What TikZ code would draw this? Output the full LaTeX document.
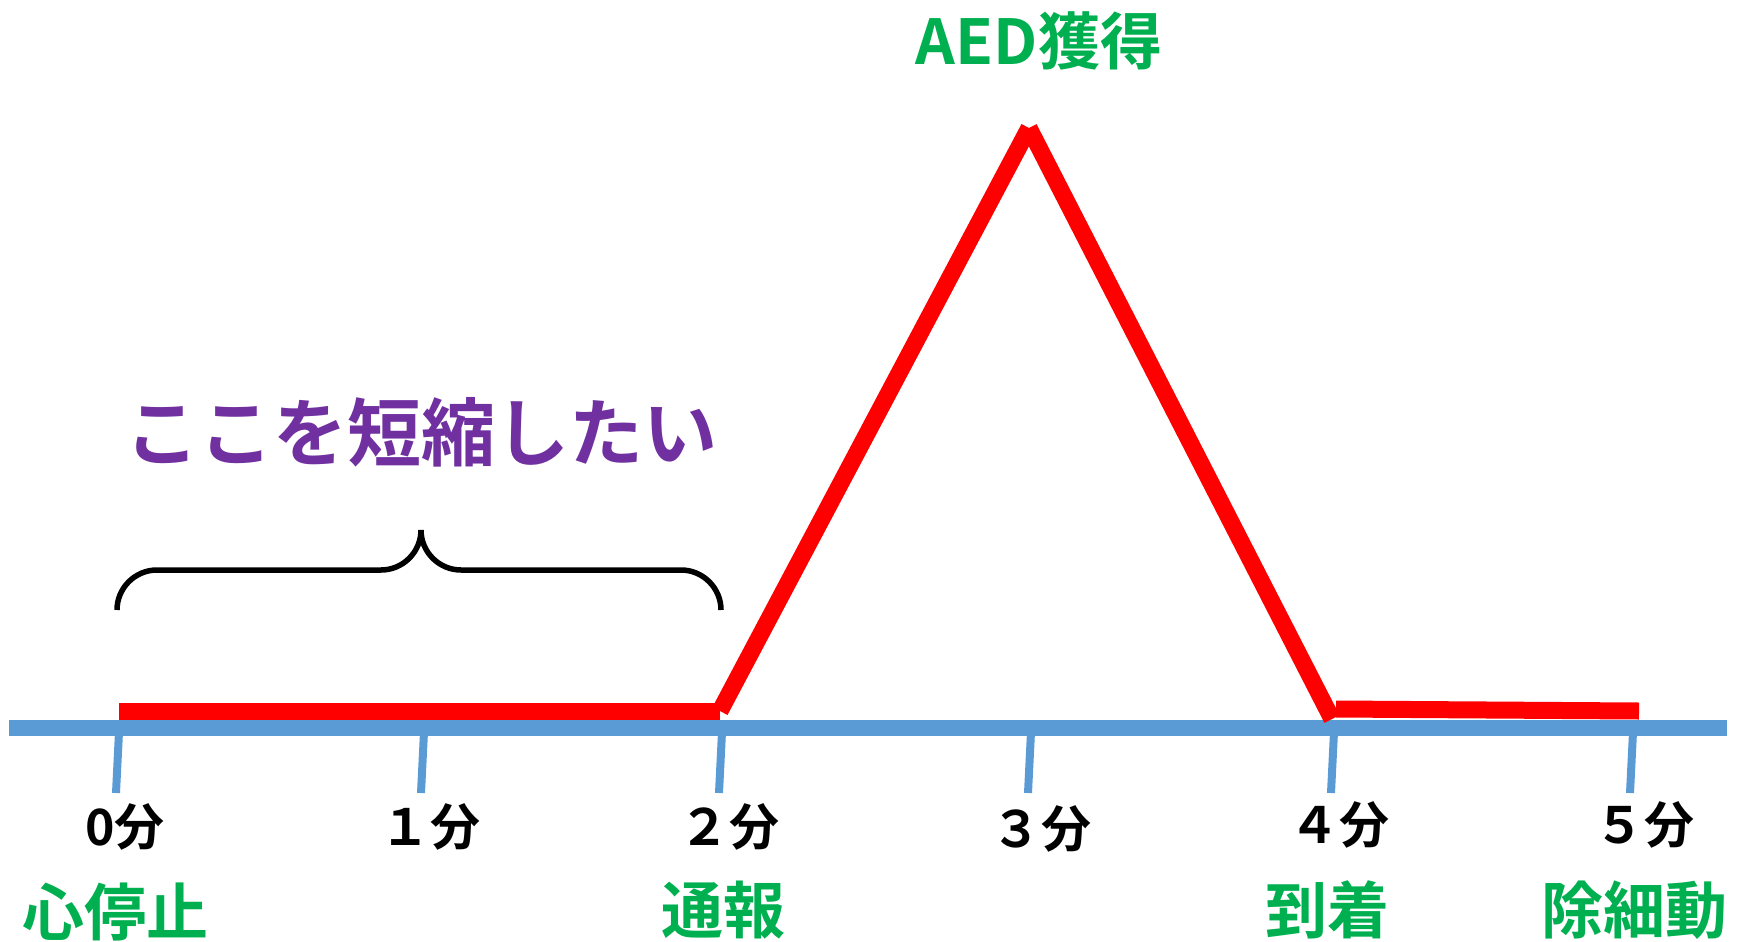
\documentclass[tikz,border=0pt]{standalone}
\usepackage{fontspec}
\setmainfont{Noto Sans CJK JP}[BoldFont={Noto Sans CJK JP Bold}]
\definecolor{axisblue}{HTML}{5B9BD5}
\definecolor{lgreen}{HTML}{00B050}
\definecolor{lpurple}{HTML}{7030A0}
\definecolor{lred}{HTML}{FF0000}
\begin{document}
\begin{tikzpicture}[x=1pt,y=-1pt,
  axisline/.style={draw=axisblue,line width=16pt},
  tickline/.style={draw=axisblue,line width=8pt},
  redline/.style={draw=lred,line width=17pt},
  minlabel/.style={font=\fontsize{50}{54}\selectfont\bfseries,text=black,inner sep=0pt},
  eventlabel/.style={font=\fontsize{62}{68}\selectfont\bfseries,text=lgreen,inner sep=0pt},
  notelabel/.style={font=\fontsize{74}{80}\selectfont\bfseries,text=lpurple,inner sep=0pt},
  bracestyle/.style={draw=black,line width=5.5pt}]
\useasboundingbox (0,0) rectangle (1745,942);
% axis
\coordinate (axL) at (9,728);
\coordinate (axR) at (1727,728);
\draw[axisline] (axL) -- (axR);
% ticks
\foreach \n/\x in {0/117,1/422,2/720,3/1029,4/1332,5/1631}{
  \coordinate (t\n top) at (\x+2,732);
  \coordinate (t\n bot) at (\x-1,793);
  \draw[tickline] (t\n top) -- (t\n bot);
}
% red curve
\coordinate (r0) at (119,711);
\coordinate (r1) at (720,711);
\coordinate (r2) at (1029,128);
\coordinate (r3) at (1332,719);
\coordinate (r4) at (1336,709);
\coordinate (r5) at (1639,711);
\draw[redline] (r0) -- (r1);
\draw[redline] (r1) -- (r2);
\draw[redline] (r2) -- (r3);
\draw[redline] (r4) -- (r5);
% brace
\coordinate (bL) at (117,610);
\coordinate (bM) at (421,530);
\coordinate (bR) at (721,610);
\draw[bracestyle] (bL) .. controls (117,588) and (135,570) .. (157,570) -- (381,570)
  .. controls (403,570) and (421,552) .. (bM)
  .. controls (421,552) and (439,570) .. (461,570) -- (681,570)
  .. controls (703,570) and (721,588) .. (bR);
% labels
\node[minlabel] (m0) at (125,827) {0分};
\node[minlabel] (m1) at (430,827) {１分};
\node[minlabel] (m2) at (729,827) {２分};
\node[minlabel] (m3) at (1041,829) {３分};
\node[minlabel] (m4) at (1339,825) {４分};
\node[minlabel] (m5) at (1644,825) {５分};
\node[eventlabel] (e0) at (115,912) {心停止};
\node[eventlabel] (e2) at (723,910) {通報};
\node[eventlabel] (e4) at (1327,910) {到着};
\node[eventlabel] (e5) at (1634,910) {除細動};
\node[eventlabel] (aed) at (1039,41) {AED獲得};
\node[notelabel] (note) at (421,432) {ここを短縮したい};
\end{tikzpicture}
\end{document}
